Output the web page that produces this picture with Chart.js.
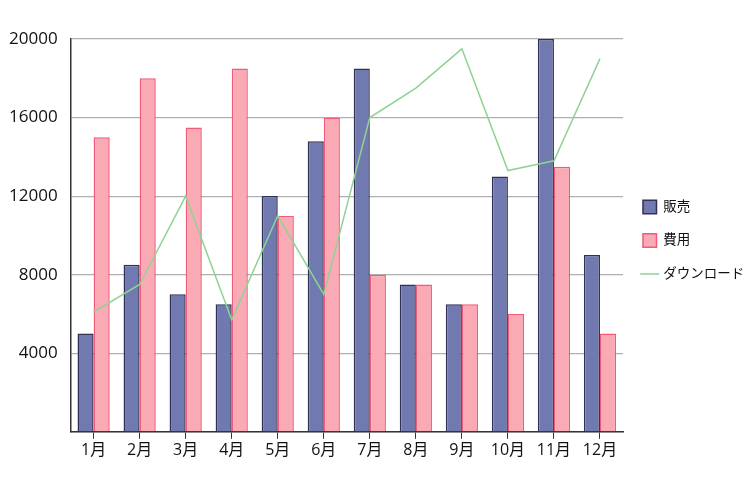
<!DOCTYPE html>
<html>
<head>
<meta charset="utf-8">
<script src="https://cdn.jsdelivr.net/npm/chart.js@4/dist/chart.umd.min.js"></script>
<style>
  body { margin: 0; background: #fff; }
  #wrap { width: 748px; height: 480px; }
</style>
</head>
<body>
<div id="wrap"><canvas id="chart"></canvas></div>
<script>
const months = ['1月', '2月', '3月', '4月', '5月', '6月', '7月', '8月', '9月', '10月', '11月', '12月'];
const sales = [5000, 8500, 7000, 6500, 12000, 14800, 18500, 7500, 6500, 13000, 20000, 9000];
const costs = [15000, 18000, 15500, 18500, 11000, 16000, 8000, 7500, 6500, 6000, 13500, 5000];
const downloads = [6100, 7500, 12000, 5700, 11000, 7000, 16000, 17500, 19500, 13300, 13800, 19000];

const font = "'Open Sans', 'Noto Sans CJK JP', sans-serif";

// nudge the legend up a bit, it sits lower than the original
const legendShift = {
  id: 'legendShift',
  afterLayout(chart) {
    chart.legend.top -= 10;
    chart.legend.bottom -= 10;
  }
};

const ctx = document.getElementById('chart').getContext('2d');
new Chart(ctx, {
  type: 'bar',
  data: {
    labels: months,
    datasets: [
      {
        label: '販売',
        data: sales,
        backgroundColor: '#7079b0',
        borderColor: '#2f3254',
        borderWidth: 1.5,
        pointStyle: 'rect',
        categoryPercentage: 0.7,
        barPercentage: 1,
        order: 2
      },
      {
        label: '費用',
        data: costs,
        backgroundColor: '#f9aab5',
        borderColor: '#f25a78',
        borderWidth: 1.5,
        pointStyle: 'rect',
        categoryPercentage: 0.7,
        barPercentage: 1,
        order: 2
      },
      {
        type: 'line',
        label: 'ダウンロード',
        data: downloads,
        borderColor: '#8fd394',
        backgroundColor: '#8fd394',
        borderWidth: 1.5,
        pointRadius: 0,
        pointStyle: 'line',
        tension: 0,
        order: 1
      }
    ]
  },
  plugins: [legendShift],
  options: {
    responsive: true,
    maintainAspectRatio: false,
    animation: false,
    layout: { padding: { top: 39, right: 0, left: -4, bottom: 18 } },
    scales: {
      x: {
        grid: { offset: false, drawOnChartArea: false, drawTicks: true, tickLength: 7, color: '#333' },
        border: { color: '#333', width: 1.5 },
        ticks: { color: '#111', font: { family: font, size: 16 }, padding: 2 }
      },
      y: {
        min: 0,
        max: 20000,
        grid: { color: '#b0b0b0', lineWidth: 1.2, drawTicks: false },
        border: { color: '#333', width: 1.5 },
        ticks: {
          stepSize: 4000,
          color: '#111',
          padding: 13,
          font: { family: font, size: 17 },
          callback: (v) => v === 0 ? '' : v
        }
      }
    },
    plugins: {
      legend: {
        position: 'right',
        maxWidth: 125,
        labels: {
          usePointStyle: true,
          boxWidth: 14,
          boxHeight: 14,
          padding: 20,
          color: '#111',
          font: { family: font, size: 13.5 },
          sort: (a, b) => a.datasetIndex - b.datasetIndex
        }
      },
      tooltip: { enabled: false }
    }
  }
});
</script>
</body>
</html>
